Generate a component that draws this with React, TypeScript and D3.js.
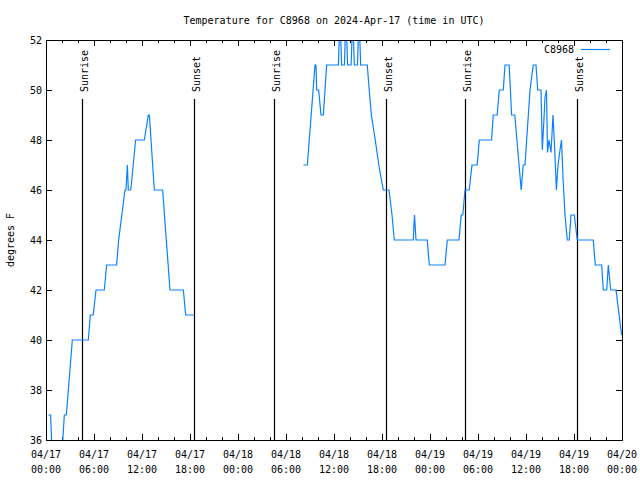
import React, { useEffect, useRef } from 'react';
import * as d3 from 'd3';

// hours after 2024-04-17 00:00 UTC and temperature (F), first stretch of readings
const day1Hours = [0.29, 0.58, 0.7, 0.8, 1.95, 2.1, 2.29, 2.54, 3.29, 5.29, 5.54, 5.9, 6.25, 7.29, 7.58, 8.83, 9.08, 9.875, 10.0, 10.17, 10.29, 10.6, 11.2, 12.29, 12.79, 12.92, 13.54, 14.58, 15.5, 17.17, 17.46, 18.5];
const day1Temps = [37, 37, 36, 35, 35, 36, 37, 37, 40, 40, 41, 41, 42, 42, 43, 43, 44, 46, 46, 47, 46, 46, 48, 48, 49, 49, 46, 46, 42, 42, 41, 41];

// second stretch, 04/18 08:00 onwards
const day2Hours = [32.17, 32.67, 33.625, 33.75, 33.83, 34.08, 34.375, 34.67, 35.08,
  36.55, 36.65, 36.85, 36.95, 37.3, 37.4, 37.6, 37.7, 38.14, 38.24, 38.44, 38.54, 38.93, 39.03, 39.23, 39.33,
  40.16, 40.4, 40.67, 41.16, 41.6, 42.16, 42.875, 43.25, 43.54, 45.91, 46.06, 46.25, 47.66, 47.91, 49.875, 50.16,
  51.625, 51.9, 52.1, 52.375, 52.9, 53.25, 53.9, 54.16, 55.7, 55.9, 56.4, 56.66, 57.16, 57.375, 57.9, 58.2, 58.6,
  59.4, 59.65, 59.875, 60.5, 60.9, 61.25, 61.46, 61.875,
  62.04, 62.19, 62.375, 62.56, 62.69, 62.875, 63.125, 63.375, 63.56, 63.8, 64.0, 64.25, 64.44, 64.625, 64.875,
  65.16, 65.41, 65.625, 66.04, 66.41, 68.41, 68.66, 69.46, 69.66, 70.09, 70.29, 70.59, 71.25, 71.95];
const day2Temps = [47, 47, 51, 51, 50, 50, 49, 49, 51,
  51, 52, 52, 51, 51, 52, 52, 51, 51, 52, 52, 51, 51, 52, 52, 51,
  51, 50, 49, 48, 47, 46, 46, 45, 44, 44, 45, 44, 44, 43, 43, 44,
  44, 45, 45, 46, 46, 47, 47, 48, 48, 49, 49, 50, 50, 51, 51, 49, 49,
  46, 47, 47, 50, 51, 51, 50, 50,
  47.6, 48.5, 49.7, 50, 47.5, 48, 47.5, 49, 47.8, 46, 47, 47.6, 48, 46.5, 45,
  44, 44, 45, 45, 44, 44, 43, 43, 42, 42, 43, 42, 42, 40.2];

const sunHours = [4.54, 18.54, 28.54, 42.5, 52.375, 66.41];
const sunLabels = ['Sunrise', 'Sunset', 'Sunrise', 'Sunset', 'Sunrise', 'Sunset'];

const yTicks = [36, 38, 40, 42, 44, 46, 48, 50, 52];

const T0 = Date.UTC(2024, 3, 17);
const hourToDate = (h: number) => new Date(T0 + h * 3600 * 1000);

const FONT = '"DejaVu Sans Mono", "Liberation Mono", monospace';
const BLUE = '#0a80ff';

const TempChart: React.FC = () => {
  const ref = useRef<SVGSVGElement | null>(null);

  useEffect(() => {
    if (ref.current) draw();
  }, []);

  const draw = () => {
    const svg = d3.select(ref.current);
    svg.selectAll('*').remove();

    const width = 640;
    const height = 480;
    const margin = { top: 40, right: 18, bottom: 40, left: 46 };
    const x0 = margin.left, x1 = width - margin.right;
    const y0 = margin.top, y1 = height - margin.bottom;

    const x = d3.scaleUtc()
      .domain([new Date(T0), new Date(Date.UTC(2024, 3, 20))])
      .range([x0, x1]);
    const y = d3.scaleLinear().domain([36, 52]).range([y1, y0]);

    svg.append('rect').attr('width', width).attr('height', height).attr('fill', 'white');

    svg.append('defs').append('clipPath').attr('id', 'plotclip')
      .append('rect').attr('x', x0).attr('y', y0).attr('width', x1 - x0).attr('height', y1 - y0);

    // ticks on all four sides
    const major = x.ticks(d3.utcHour.every(6)!);
    const minor = x.ticks(d3.utcHour.every(2)!).filter(d => d.getUTCHours() % 6 !== 0);
    const tg = svg.append('g').attr('stroke', 'black').attr('shape-rendering', 'crispEdges');
    major.forEach(d => {
      const px = Math.round(x(d)) + 0.5;
      tg.append('line').attr('x1', px).attr('x2', px).attr('y1', y1).attr('y2', y1 - 6);
      tg.append('line').attr('x1', px).attr('x2', px).attr('y1', y0).attr('y2', y0 + 6);
    });
    minor.forEach(d => {
      const px = Math.round(x(d)) + 0.5;
      tg.append('line').attr('x1', px).attr('x2', px).attr('y1', y1).attr('y2', y1 - 3);
      tg.append('line').attr('x1', px).attr('x2', px).attr('y1', y0).attr('y2', y0 + 3);
    });
    yTicks.forEach(v => {
      const py = Math.round(y(v)) + 0.5;
      tg.append('line').attr('x1', x0).attr('x2', x0 + 6).attr('y1', py).attr('y2', py);
      tg.append('line').attr('x1', x1).attr('x2', x1 - 6).attr('y1', py).attr('y2', py);
    });

    // tick labels
    const fmtDay = d3.utcFormat('%m/%d');
    const fmtTime = d3.utcFormat('%H:%M');
    const xl = svg.append('g').attr('font-family', FONT).attr('font-size', 10).attr('text-anchor', 'middle');
    major.forEach(d => {
      xl.append('text').attr('x', x(d)).attr('y', 458).text(fmtDay(d));
      xl.append('text').attr('x', x(d)).attr('y', 473).text(fmtTime(d));
    });
    svg.append('g').attr('font-family', FONT).attr('font-size', 10).attr('text-anchor', 'end')
      .selectAll('text').data(yTicks).enter().append('text')
      .attr('x', x0 - 4).attr('y', d => y(d)).attr('dy', '0.35em').text(d => String(d));

    // sunrise / sunset markers
    sunHours.forEach((h, i) => {
      const px = Math.round(x(hourToDate(h))) + 0.5;
      svg.append('line').attr('x1', px).attr('x2', px).attr('y1', 99).attr('y2', y1)
        .attr('stroke', 'black').attr('stroke-width', 1.2);
      svg.append('text')
        .attr('transform', `translate(${px + 5},92) rotate(-90)`)
        .attr('font-family', FONT).attr('font-size', 10)
        .text(sunLabels[i]);
    });

    // temperature line
    const line = d3.line<[number, number]>()
      .x(d => x(hourToDate(d[0])))
      .y(d => y(d[1]));
    const series = [
      day1Hours.map((h, i) => [h, day1Temps[i]] as [number, number]),
      day2Hours.map((h, i) => [h, day2Temps[i]] as [number, number]),
    ];
    svg.append('g').attr('clip-path', 'url(#plotclip)')
      .selectAll('path').data(series).enter().append('path')
      .attr('d', d => line(d))
      .attr('fill', 'none')
      .attr('stroke', BLUE)
      .attr('stroke-width', 1.2);

    // border
    svg.append('rect').attr('x', x0 + 0.5).attr('y', y0 + 0.5)
      .attr('width', x1 - x0).attr('height', y1 - y0)
      .attr('fill', 'none').attr('stroke', 'black').attr('shape-rendering', 'crispEdges');

    // legend
    svg.append('text').attr('x', 574).attr('y', 53).attr('text-anchor', 'end')
      .attr('font-family', FONT).attr('font-size', 10).text('C8968');
    svg.append('line').attr('x1', 581).attr('x2', 610).attr('y1', 49.5).attr('y2', 49.5)
      .attr('stroke', BLUE).attr('stroke-width', 1.2);

    // title and axis name
    svg.append('text').attr('x', (x0 + x1) / 2).attr('y', 24).attr('text-anchor', 'middle')
      .attr('font-family', FONT).attr('font-size', 10)
      .text('Temperature for C8968 on 2024-Apr-17 (time in UTC)');
    svg.append('text').attr('transform', `translate(14,${(y0 + y1) / 2}) rotate(-90)`)
      .attr('text-anchor', 'middle').attr('font-family', FONT).attr('font-size', 10)
      .text('degrees F');
  };

  return (
    <svg ref={ref} width={640} height={480} style={{ position: 'absolute', left: 0, top: 0 }}></svg>
  );
};

export default function App() {
  return <TempChart />;
}
